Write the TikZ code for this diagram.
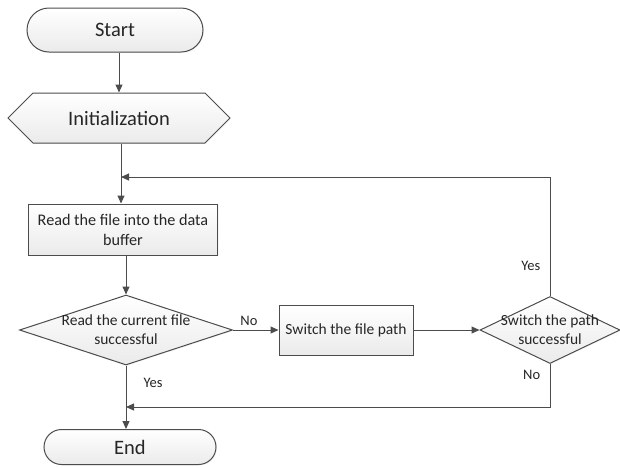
\documentclass[tikz,border=0pt]{standalone}
\usepackage{fontspec}
\setmainfont{Carlito}
\usetikzlibrary{positioning,arrows.meta,shapes.geometric,shapes.misc,shapes.symbols,shadows}

\begin{document}
\begin{tikzpicture}[x=1pt, y=-1pt,
    base/.style={draw=black!70, line width=1pt, top color=white, bottom color=black!8,
        drop shadow={opacity=0.08, shadow xshift=1pt, shadow yshift=-1pt},
        inner sep=0pt, align=center, text=black!85},
    terminal/.style={base, rounded rectangle, font=\fontsize{20.5}{24}\selectfont},
    prep/.style={base, signal, signal to=west and east, signal pointer angle=90, font=\fontsize{20.5}{24}\selectfont},
    process/.style={base, rectangle, font=\fontsize{15.5}{19}\selectfont},
    decision/.style={base, diamond, font=\fontsize{15.5}{19}\selectfont},
    dtext/.style={font=\fontsize{15.5}{19}\selectfont, align=center, text=black!85},
    arr/.style={-{Triangle[length=8pt, width=7pt]}, draw=black!70, line width=1pt},
    lbl/.style={font=\fontsize{14.5}{17}\selectfont, text=black!85},
]
    \useasboundingbox (0,0) rectangle (620,467);

    % === MAIN COLUMN ===
    \node[terminal, minimum width=176pt, minimum height=44pt] (start) at (115,30) {Start};
    \node[prep, minimum width=222pt, minimum height=50pt] (init) at (119,118) {Initialization};
    \node[process, minimum width=189pt, minimum height=51pt, font=\fontsize{16.2}{20}\selectfont] (read) at (123,229.5) {Read the file into the data\\buffer};
    \node[decision, minimum width=213pt, minimum height=70pt,
        label={[dtext]center:Read the current file\\successful}] (check) at (126,330) {};
    \node[terminal, minimum width=172pt, minimum height=35pt] (end) at (130,447) {End};

    % === RIGHT BRANCH ===
    \node[process, minimum width=134pt, minimum height=50pt] (switch) at (346,330) {Switch the file path};
    \node[decision, minimum width=140pt, minimum height=67pt,
        label={[dtext]center:Switch the path\\successful}] (pathok) at (550,330) {};

    % === LOOP POINTS ===
    \coordinate (loopin) at (121,177);
    \coordinate (endin) at (126,407);

    % === ARROWS: main pipeline ===
    \draw[arr] (start.south -| init.north) -- (init.north);
    \draw[arr] (init.south -| loopin) -- (read.north -| loopin);
    \draw[arr] (read.south -| check.north) -- (check.north);
    \draw[arr] (check.south) -- (end.north -| check.south);

    % === ARROWS: failure branch ===
    \draw[arr] (check.east) -- node[lbl, above=1pt, pos=0.35] {No} (switch.west);
    \draw[arr] (switch.east) -- (pathok.west);

    % === ARROWS: back loops ===
    \draw[arr] (pathok.north) -- node[lbl, left=6pt, pos=0.25] {Yes} (pathok.north |- loopin) -- (loopin);
    \draw[arr] (pathok.south) -- node[lbl, left=6pt, pos=0.25] {No} (pathok.south |- endin) -- (endin);
    \node[lbl] (yes1) at (153,383) {Yes};
\end{tikzpicture}
\end{document}
